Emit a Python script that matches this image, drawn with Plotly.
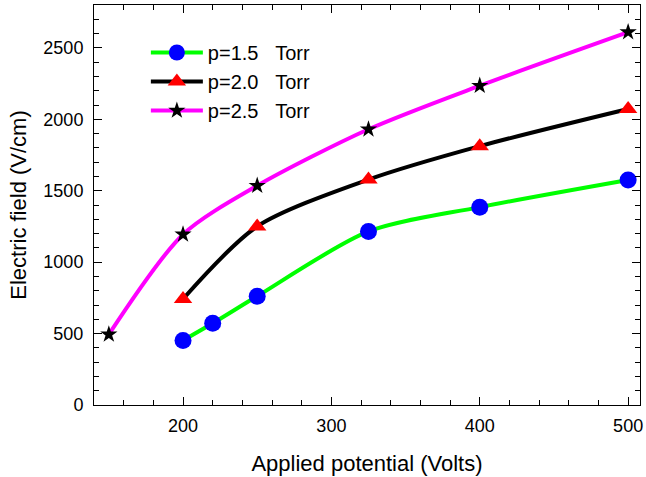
import plotly.graph_objects as go

x15 = [200, 220, 250, 325, 400, 500]
y15 = [452, 572, 762, 1215, 1385, 1575]
x20 = [200, 250, 325, 400, 500]
y20 = [742, 1250, 1578, 1812, 2072]
x25 = [150, 200, 250, 325, 400, 500]
y25 = [494, 1194, 1535, 1930, 2235, 2610]
names = ["p=1.5\u00a0\u00a0\u00a0Torr", "p=2.0\u00a0\u00a0\u00a0Torr", "p=2.5\u00a0\u00a0\u00a0Torr"]

FONT = "Liberation Sans, Arial"
fig = go.Figure()
fig.add_trace(go.Scatter(x=x15, y=y15, name=names[0], mode="lines+markers",
                         line=dict(color="#00ff00", width=4, shape="spline", smoothing=0.8),
                         marker=dict(symbol="circle", size=17, color="#0000ff")))
fig.add_trace(go.Scatter(x=x20, y=y20, name=names[1], mode="lines+markers",
                         line=dict(color="#000000", width=4, shape="spline", smoothing=0.8),
                         marker=dict(symbol="triangle-up", size=16, color="#ff0000")))
fig.add_trace(go.Scatter(x=x25, y=y25, name=names[2], mode="lines+markers",
                         line=dict(color="#ff00ff", width=4, shape="spline", smoothing=0.8),
                         marker=dict(symbol="star", size=13, color="#000000")))

axis_common = dict(showline=True, linecolor="black", linewidth=1, mirror="ticks",
                   ticks="inside", ticklen=8, tickcolor="black", showgrid=False,
                   zeroline=False, ticklabeloverflow="allow",
                   tickfont=dict(family=FONT, size=18, color="black"))
fig.update_xaxes(range=[140, 508], tickvals=[200, 300, 400, 500],
                 minor=dict(dtick=20, tick0=0, ticks="inside", ticklen=5, tickcolor="black"),
                 ticklabelstandoff=4,
                 title=dict(text="Applied potential (Volts)", font=dict(family=FONT, size=22, color="black"), standoff=21),
                 **axis_common)
fig.update_yaxes(range=[0, 2800], tickvals=[0, 500, 1000, 1500, 2000, 2500],
                 minor=dict(dtick=100, tick0=0, ticks="inside", ticklen=5, tickcolor="black"),
                 ticklabelstandoff=6,
                 title=dict(text="Electric field (V/cm)", font=dict(family=FONT, size=22, color="black"), standoff=10),
                 **axis_common)
fig.update_layout(width=646, height=477, margin=dict(l=94, r=3, t=5, b=72),
                  plot_bgcolor="white", paper_bgcolor="white",
                  legend=dict(x=0.095, y=0.93, xanchor="left", yanchor="top",
                              bgcolor="rgba(0,0,0,0)", font=dict(family=FONT, size=20, color="black"),
                              itemwidth=52, tracegroupgap=0),
                  showlegend=True)
fig.write_html("out.html")
